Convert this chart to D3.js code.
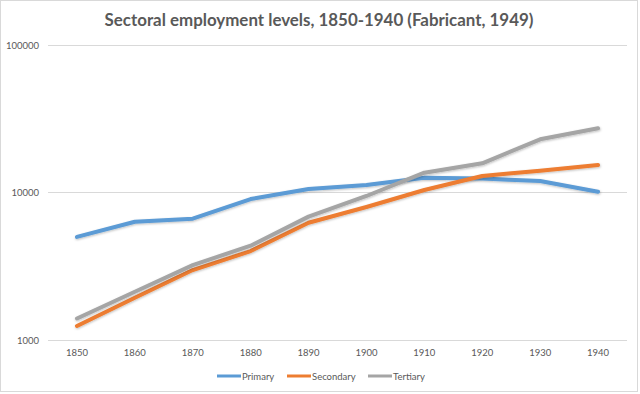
<!DOCTYPE html>
<meta charset="utf-8">
<html>
    <head>
        <style type="text/css">
            body { margin:0; background:#fff; }
            svg { display:block; }
            .graphText { font-family: "Lato", "Open Sans", sans-serif; fill: #595959; }
        </style>
        <script src="https://d3js.org/d3.v7.min.js"></script>
    </head>
    <body>
        <svg width="640" height="394"></svg>
        <script type="text/javascript">
            // data
            var years = ["1850", "1860", "1870", "1880", "1890", "1900", "1910", "1920", "1930", "1940"];
            var primary   = [5000, 6340, 6650, 9030, 10560, 11240, 12600, 12450, 11950, 10120];
            var secondary = [1245, 1935, 2980, 4010, 6240, 7980, 10400, 12940, 14060, 15360];
            var tertiary  = [1400, 2125, 3220, 4360, 6860, 9470, 13620, 15780, 22950, 27230];
            var yTicks = [1000, 10000, 100000];
            var seriesNames = ["Primary", "Secondary", "Tertiary"];
            var colors = ["#5B9BD5", "#ED7D31", "#A5A5A5"];

            var series = [primary, secondary, tertiary];

            var margin = {top: 45, bottom: 54, left: 48, right: 13};
            var width = 640, height = 394;

            var svg = d3.select("svg");

            // chart border
            svg.append("rect")
                .attr("x", 0.5).attr("y", 0.5)
                .attr("width", 637).attr("height", 391)
                .attr("fill", "#fff")
                .attr("stroke", "#d9d9d9");

            var xScale = d3.scaleBand()
                .domain(years)
                .range([margin.left, width - margin.right]);

            var yScale = d3.scaleLog()
                .domain([1000, 100000])
                .range([height - margin.bottom, margin.top]);

            // gridlines
            svg.append("g").selectAll("line")
                .data(yTicks)
                .enter().append("line")
                .attr("x1", margin.left)
                .attr("x2", width - margin.right)
                .attr("y1", d => Math.round(yScale(d)) + 0.5)
                .attr("y2", d => Math.round(yScale(d)) + 0.5)
                .attr("stroke", "#d9d9d9")
                .attr("stroke-width", 1);

            // y labels
            svg.append("g").selectAll("text")
                .data(yTicks)
                .enter().append("text")
                .attr("class", "graphText")
                .attr("x", 39)
                .attr("y", d => yScale(d) + 3.5)
                .style("text-anchor", "end")
                .style("font-size", "9.5px")
                .text(d => d);

            // x labels
            svg.append("g").selectAll("text")
                .data(years)
                .enter().append("text")
                .attr("class", "graphText")
                .attr("x", d => xScale(d) + xScale.bandwidth() / 2)
                .attr("y", 356)
                .style("text-anchor", "middle")
                .style("font-size", "9.5px")
                .text(d => d);

            var line = d3.line()
                .x((d, i) => xScale(years[i]) + xScale.bandwidth() / 2)
                .y(d => yScale(d));

            // soft shadow like Excel
            svg.append("defs").append("filter")
                .attr("id", "shadow")
                .append("feDropShadow")
                .attr("dx", 0.5).attr("dy", 1)
                .attr("stdDeviation", 0.8)
                .attr("flood-color", "#000")
                .attr("flood-opacity", 0.25);

            svg.append("g").selectAll("path")
                .data(series)
                .enter().append("path")
                .attr("d", d => line(d))
                .attr("fill", "none")
                .attr("stroke", (d, i) => colors[i])
                .attr("stroke-width", 4)
                .attr("stroke-linejoin", "round")
                .attr("stroke-linecap", "round")
                .attr("filter", "url(#shadow)");

            // legend
            var legendX = [217, 287, 368];
            var legend = svg.append("g").selectAll("g")
                .data(seriesNames)
                .enter().append("g")
                .attr("transform", (d, i) => "translate(" + [legendX[i], 376] + ")");
            legend.append("line")
                .attr("x1", 0).attr("x2", 24)
                .attr("y1", 0).attr("y2", 0)
                .attr("stroke", (d, i) => colors[i])
                .attr("stroke-width", 3);
            legend.append("text")
                .attr("class", "graphText")
                .attr("x", 25)
                .attr("y", 3.5)
                .style("font-size", "9.5px")
                .text(d => d);

            // title
            svg.append("text")
                .attr("class", "graphText")
                .attr("x", 319)
                .attr("y", 26)
                .style("text-anchor", "middle")
                .style("font-size", "16.9px")
                .style("font-weight", "bold")
                .text("Sectoral employment levels, 1850-1940 (Fabricant, 1949)");
        </script>
    </body>
</html>
